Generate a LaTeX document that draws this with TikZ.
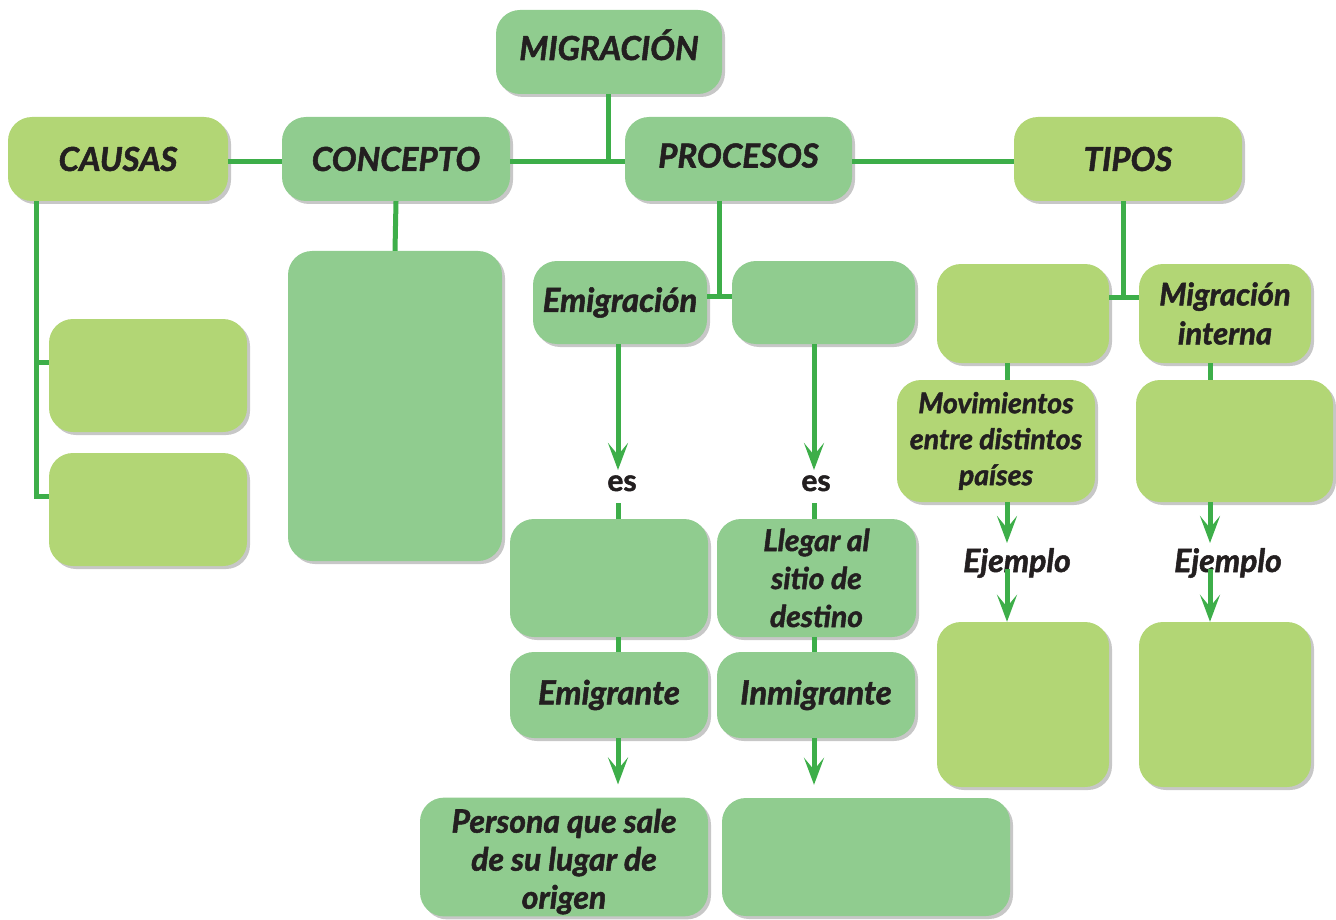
\documentclass[tikz,border=0pt]{standalone}
\usepackage{fontspec}
\setmainfont{Lato}[BoldFeatures={FakeBold=1.6}, BoldItalicFeatures={FakeBold=1.6}]
\usetikzlibrary{arrows.meta,shadows}
\definecolor{dg}{HTML}{90CC8F}
\definecolor{lg}{HTML}{B2D675}
\definecolor{ln}{HTML}{3DAE49}
\definecolor{tx}{HTML}{231F20}
\begin{document}
\begin{tikzpicture}[x=1pt,y=-1pt,
 box/.style={rounded corners=24pt, align=center, text=tx, inner sep=2pt,
   font=\bfseries\itshape\fontsize{33}{38}\selectfont,
   drop shadow={shadow xshift=3pt, shadow yshift=-3pt, opacity=0.22, fill=black}},
 dbox/.style={box, fill=dg},
 lbox/.style={box, fill=lg},
 conn/.style={draw=ln, line width=5pt},
 arr/.style={conn, -{Stealth[length=27pt,width=20pt,inset=12pt]}},
 lbl/.style={text=tx, inner sep=0pt, anchor=base},
]
\useasboundingbox (0,0) rectangle (1336,920);
% top level
\node[dbox, minimum width=226pt, minimum height=84pt, text height=16pt, text depth=0pt] (mig) at (609,52) {MIGRACIÓN};
\node[lbox, minimum width=220pt, minimum height=84pt] (causas) at (118,159) {CAUSAS};
\node[dbox, minimum width=228pt, minimum height=84pt] (concepto) at (396,159) {CONCEPTO};
\node[dbox, minimum width=227pt, minimum height=84pt, text height=17pt, text depth=0pt] (procesos) at (738.5,159) {PROCESOS};
\node[lbox, minimum width=228pt, minimum height=84pt] (tipos) at (1128,159) {TIPOS};
% causas / concepto
\node[dbox, minimum width=214pt, minimum height=310pt] (conbox) at (395,406) {};
\node[lbox, minimum width=198pt, minimum height=113pt] (c1) at (148,375.5) {};
\node[lbox, minimum width=198pt, minimum height=113pt] (c2) at (148,509.5) {};
% procesos
\node[dbox, minimum width=174pt, minimum height=83pt] (emig) at (620,302.5) {Emigración};
\node[lbl, font=\bfseries\fontsize{30}{32}\selectfont] (es1) at (622,491) {es};
\node[lbl, font=\bfseries\fontsize{30}{32}\selectfont] (es2) at (816,491) {es};
\node[dbox, minimum width=183pt, minimum height=83pt] (pblank) at (823.5,302.5) {};
\node[dbox, minimum width=198pt, minimum height=118pt] (lbox1) at (609,578) {};
\node[dbox, minimum width=199pt, minimum height=118pt, font=\bfseries\itshape\fontsize{30}{38}\selectfont] (llegar) at (816.5,578) {Llegar al\\sitio de\\destino};
\node[dbox, minimum width=198pt, minimum height=86pt] (emigrante) at (609,695) {Emigrante};
\node[dbox, minimum width=198pt, minimum height=86pt] (inmigrante) at (816,695) {Inmigrante};
\node[dbox, minimum width=288pt, minimum height=118pt, font=\bfseries\itshape\fontsize{32}{38}\selectfont] (persona) at (564,857) {\rule{0pt}{33pt}Persona que sale\\de su lugar de\\origen};
\node[dbox, minimum width=288pt, minimum height=118pt] (pbr) at (866,857) {};
% tipos
\node[lbox, minimum width=172pt, minimum height=99pt] (t1) at (1023,313.5) {};
\node[lbox, minimum width=172pt, minimum height=99pt, font=\bfseries\itshape\fontsize{31}{39}\selectfont] (mi) at (1225,313.5) {Migración\\interna};
\node[lbox, minimum width=198pt, minimum height=122pt, font=\bfseries\itshape\fontsize{28.5}{36}\selectfont] (mov) at (996,441) {Movimientos\\entre distintos\\países};
\node[lbox, minimum width=197pt, minimum height=122pt] (t2) at (1234.5,441) {};
\node[lbl, font=\bfseries\itshape\fontsize{32}{34}\selectfont] (ej1) at (1017,572) {Ejemplo};
\node[lbl, font=\bfseries\itshape\fontsize{32}{34}\selectfont] (ej2) at (1228,572) {Ejemplo};
\node[lbox, minimum width=172pt, minimum height=165pt] (e1) at (1023,704.5) {};
\node[lbox, minimum width=172pt, minimum height=165pt] (e2) at (1225,704.5) {};
% junction coordinates
\coordinate (j1) at (608,162);
\coordinate (cx) at (36,0);
\coordinate (c1a) at ([yshift=-44pt]c1.north west);
\coordinate (c2a) at ([yshift=-44pt]c2.north west);
\coordinate (pj) at (719,296);
\coordinate (tj) at (1123,297);
\coordinate (xa) at (618,491);
\coordinate (xb) at (814,491);
\coordinate (xc) at (1007,572);
\coordinate (xd) at (1210,572);
% connectors
\draw[conn] (mig.south -| j1) -- (j1);
\draw[conn] (causas.east |- j1) -- (concepto.west |- j1);
\draw[conn] (concepto.east |- j1) -- (procesos.west |- j1);
\draw[conn] (procesos.east |- j1) -- (tipos.west |- j1);
\draw[conn] (causas.south -| cx) -- (cx |- c2a) -- (c2a);
\draw[conn] (cx |- c1a) -- (c1a);
\draw[conn] (concepto.south) -- (conbox.north);
\draw[conn] (procesos.south -| pj) -- (pj);
\draw[conn] (emig.east |- pj) -- (pblank.west |- pj);
\draw[arr] (emig.south -| xa) -- ([yshift=21pt]xa);
\draw[arr] (pblank.south -| xb) -- ([yshift=21pt]xb);
\draw[conn] ([yshift=-12pt]xa) -- (lbox1.north -| xa);
\draw[conn] ([yshift=-12pt]xb) -- (llegar.north -| xb);
\draw[conn] (lbox1.south -| xa) -- (emigrante.north -| xa);
\draw[conn] (llegar.south -| xb) -- (inmigrante.north -| xb);
\draw[arr, shorten >=13pt] (emigrante.south -| xa) -- (persona.north -| xa);
\draw[arr, shorten >=13pt] (inmigrante.south -| xb) -- (pbr.north -| xb);
\draw[conn] (tipos.south -| tj) -- (tj);
\draw[conn] (t1.east |- tj) -- (mi.west |- tj);
\draw[conn] (t1.south -| xc) -- (mov.north -| xc);
\draw[conn] (mi.south -| xd) -- (t2.north -| xd);
\draw[arr] (mov.south -| xc) -- ([yshift=29pt]xc);
\draw[arr] (t2.south -| xd) -- ([yshift=29pt]xd);
\draw[arr] ([yshift=3pt]xc) -- (e1.north -| xc);
\draw[arr] ([yshift=3pt]xd) -- (e2.north -| xd);
\end{tikzpicture}
\end{document}
